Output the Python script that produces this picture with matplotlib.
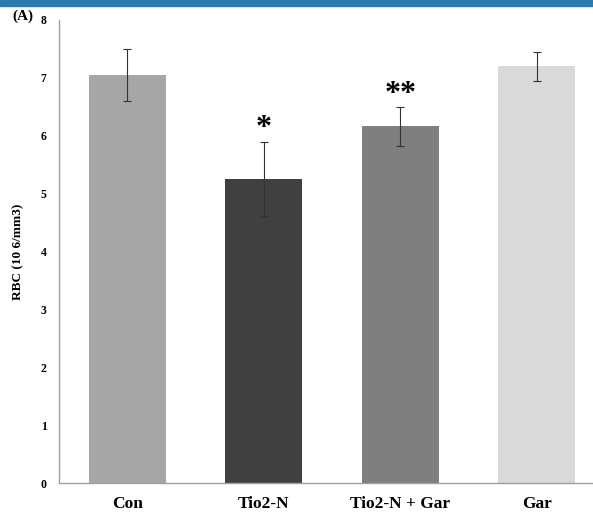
import matplotlib
matplotlib.use("Agg")
import matplotlib.pyplot as plt
from matplotlib.patches import Rectangle

categories = ["Con", "Tio2-N", "Tio2-N + Gar", "Gar"]
values = [7.05, 5.26, 6.16, 7.20]
errors = [0.45, 0.64, 0.33, 0.25]
colors = ["#a6a6a6", "#404040", "#7f7f7f", "#d9d9d9"]
marks = ["", "*", "**", ""]
yticks = [0, 1, 2, 3, 4, 5, 6, 7, 8]

W, H = 593, 514
fig = plt.figure(figsize=(W / 100, H / 100), dpi=100)
serif = ["Liberation Serif", "DejaVu Serif"]

# top blue band
fig.add_artist(Rectangle((0, 1 - 6 / H), 1, 6 / H, transform=fig.transFigure,
                         color="#2a7bab", zorder=10))

left, right, top, bottom = 59, 605, 20, 483
ax = fig.add_axes([left / W, 1 - bottom / H, (right - left) / W, (bottom - top) / H])
x = range(len(categories))
ax.bar(x, values, width=0.565, color=colors, zorder=2)
ax.errorbar(x, values, yerr=errors, fmt="none", ecolor="#333333",
            elinewidth=0.8, capsize=3, capthick=0.8, zorder=3)
for i, (v, e, m) in enumerate(zip(values, errors, marks)):
    if m:
        ax.text(i, v + e - 0.02, m, ha="center", va="bottom",
                fontsize=23, fontweight="bold", family=serif)

ax.set_xlim(-0.5, 3.5)
ax.set_ylim(0, 8)
ax.set_yticks(yticks)
ax.set_yticklabels([str(t) for t in yticks], family=serif, fontweight="bold", fontsize=8.5)
ax.set_xticks(list(x))
ax.set_xticklabels(categories, family=serif, fontweight="bold", fontsize=12.5)
ax.tick_params(axis="y", length=0, pad=9)
ax.tick_params(axis="x", length=0, pad=9)
for s in ["top", "right"]:
    ax.spines[s].set_visible(False)
for s in ["left", "bottom"]:
    ax.spines[s].set_color("#a0a0a0")
    ax.spines[s].set_linewidth(1.0)
ax.set_ylabel("RBC (10 6/mm3)", family=serif, fontweight="bold", fontsize=9.5, labelpad=12)

fig.text(12 / W, 1 - 16 / H, "(A)", family=serif, fontweight="bold", fontsize=11,
         ha="left", va="center")

fig.savefig("out.png", dpi=100)
